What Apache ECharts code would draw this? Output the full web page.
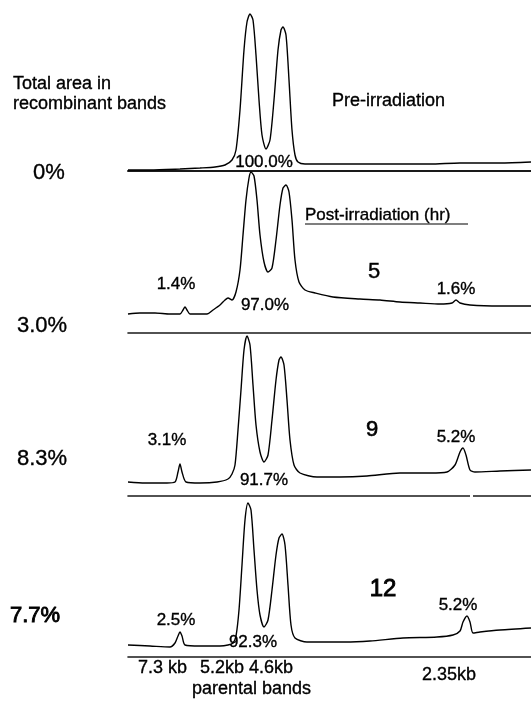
<!DOCTYPE html>
<html>
<head>
<meta charset="utf-8">
<script src="https://cdn.jsdelivr.net/npm/echarts@6/dist/echarts.min.js"></script>
<style>
html,body{margin:0;padding:0;background:#fff;}
#chart{width:531px;height:705px;}
</style>
</head>
<body>
<div id="chart"></div>
<script>
// Densitometer traces: [migration distance (arb. units), optical density (arb. units)]
var tracePre = [[0,1],[22,1],[52,2],[72,3],[87,4],[97,6],[104,11],[108,21],[112,61],[116,121],[119,149],[122,157],[125,151],[128,116],[131,71],[134,36],[138,22],[142,31],[146,71],[150,121],[153,141],[155,144],[158,136],[161,91],[164,41],[167,16],[170,9],[177,7],[202,7],[232,7],[272,7],[302,7],[332,8],[372,8],[403,9]];
var trace5h = [[0,19],[12,20],[27,20],[42,19],[52,19],[55,23],[57,26],[59,23],[62,19],[72,19],[79,19],[85,23],[92,28],[97,33],[100,35],[104,33],[108,41],[112,63],[115,98],[118,133],[121,155],[123,161],[126,157],[129,133],[132,98],[136,71],[140,61],[144,65],[148,93],[152,128],[155,145],[158,148],[161,141],[164,113],[167,73],[171,51],[177,43],[187,40],[205,36],[232,34],[252,33],[272,31],[292,30],[312,29],[324,30],[328,33],[332,30],[342,28],[372,27],[403,27]];
var trace9h = [[0,14],[17,13],[39,13],[47,14],[50,24],[52,32],[54,24],[58,14],[72,13],[89,14],[100,17],[104,22],[107,31],[110,66],[113,106],[116,146],[119,160],[122,151],[125,111],[128,71],[132,44],[136,34],[140,41],[144,76],[148,116],[151,136],[153,139],[156,131],[159,96],[162,56],[166,31],[172,23],[189,19],[212,19],[239,20],[272,23],[302,23],[319,24],[327,31],[332,44],[335,48],[338,41],[342,26],[347,24],[372,25],[403,26]];
var trace12h = [[0,12],[22,11],[42,10],[47,14],[50,21],[52,25],[54,21],[57,12],[72,11],[92,11],[100,12],[105,14],[108,21],[111,47],[114,92],[117,137],[120,154],[123,147],[126,107],[129,67],[132,42],[136,30],[140,37],[144,67],[148,102],[151,119],[154,123],[157,112],[160,72],[163,32],[167,19],[179,15],[192,15],[217,15],[242,16],[275,19],[309,20],[325,22],[332,26],[335,35],[339,41],[342,35],[345,24],[352,25],[372,27],[403,29]];

// Text content
var timePoints = ['', '5', '9', '12'];
var totalRecombinant = ['0%', '3.0%', '8.3%', '7.7%'];
var leftBandPct = ['', '1.4%', '3.1%', '2.5%'];
var parentalPct = ['100.0%', '97.0%', '91.7%', '92.3%'];
var rightBandPct = ['', '1.6%', '5.2%', '5.2%'];
var sizeLabels = ['7.3 kb', '5.2kb 4.6kb', '2.35kb'];
var headerLeft = ['Total area in', 'recombinant bands'];
var preLabel = 'Pre-irradiation';
var postLabel = 'Post-irradiation (hr)';
var bottomLabel = 'parental bands';

var FONT = '"Liberation Sans", Arial, Helvetica, sans-serif';
var traces = [tracePre, trace5h, trace9h, trace12h];
var gridTops = [9, 171, 334, 495];
var axisWidths = [2, 1.6, 1.6, 1.6];

var grids = [], xAxes = [], yAxes = [], series = [];
traces.forEach(function (tr, i) {
  grids.push({left: 128, right: 0, top: gridTops[i], height: 162, containLabel: false});
  xAxes.push({type: 'value', gridIndex: i, min: 0, max: 403,
    axisLine: {show: true, onZero: false, lineStyle: {color: '#1a1a1a', width: axisWidths[i]}},
    axisTick: {show: false}, axisLabel: {show: false}, splitLine: {show: false}});
  yAxes.push({type: 'value', gridIndex: i, min: 0, max: 162, show: false, splitLine: {show: false}});
  series.push({type: 'line', xAxisIndex: i, yAxisIndex: i, data: tr, smooth: 0.25,
    showSymbol: false, symbol: 'none', clip: false,
    lineStyle: {color: '#000', width: 1.4}});
});

function txt(s, x, y, size, align, sw) {
  return {type: 'text', x: x, y: y, silent: true, z: 10,
    style: {text: s, fill: '#000', stroke: '#000', lineWidth: sw == null ? 0.35 : sw,
      font: size + 'px ' + FONT,
      textAlign: align || 'center', textVerticalAlign: 'middle'}};
}

var g = [];
g.push(txt(headerLeft[0], 13, 84, 18, 'left'));
g.push(txt(headerLeft[1], 13, 104, 18, 'left'));
g.push(txt(preLabel, 332, 101, 18, 'left'));
g.push(txt(postLabel, 305, 215, 17, 'left'));
g.push({type: 'line', silent: true, shape: {x1: 305, y1: 224, x2: 468, y2: 224}, style: {stroke: '#000', lineWidth: 1.2}});
// small breaks in the scanned separator lines
g.push({type: 'rect', silent: true, z: 5, shape: {x: 470, y: 494, width: 3, height: 4}, style: {fill: '#fff'}});

var totalPos = [[33, 173], [17, 326], [17, 459], [10, 616]];
var totalStroke = [0.35, 0.35, 0.35, 0.9];
var leftPctPos = [null, [176, 284], [167, 440], [176, 620]];
var parPos = [[264, 162], [265, 305], [264, 480], [253, 642]];
var rightPctPos = [null, [456, 289], [456, 437], [458, 605]];
var timePos = [null, [374, 272], [372, 430], [383, 589]];
var timeSize = [0, 22, 22, 24];
var timeStroke = [0, 0.4, 0.6, 0.9];
for (var i = 0; i < 4; i++) {
  g.push(txt(totalRecombinant[i], totalPos[i][0], totalPos[i][1], 22, 'left', totalStroke[i]));
  g.push(txt(parentalPct[i], parPos[i][0], parPos[i][1], 17, 'center'));
  if (leftBandPct[i]) g.push(txt(leftBandPct[i], leftPctPos[i][0], leftPctPos[i][1], 17, 'center'));
  if (rightBandPct[i]) g.push(txt(rightBandPct[i], rightPctPos[i][0], rightPctPos[i][1], 17, 'center'));
  if (timePoints[i]) g.push(txt(timePoints[i], timePos[i][0], timePos[i][1], timeSize[i], 'center', timeStroke[i]));
}
g.push(txt(sizeLabels[0], 138, 668, 18, 'left'));
g.push(txt(sizeLabels[1], 200, 668, 18, 'left'));
g.push(txt(sizeLabels[2], 422, 675, 18, 'left'));
g.push(txt(bottomLabel, 192, 689, 18, 'left'));

var chart = echarts.init(document.getElementById('chart'), null, {renderer: 'canvas'});
chart.setOption({
  animation: false,
  backgroundColor: '#fff',
  grid: grids, xAxis: xAxes, yAxis: yAxes, series: series,
  graphic: g
});
</script>
</body>
</html>
